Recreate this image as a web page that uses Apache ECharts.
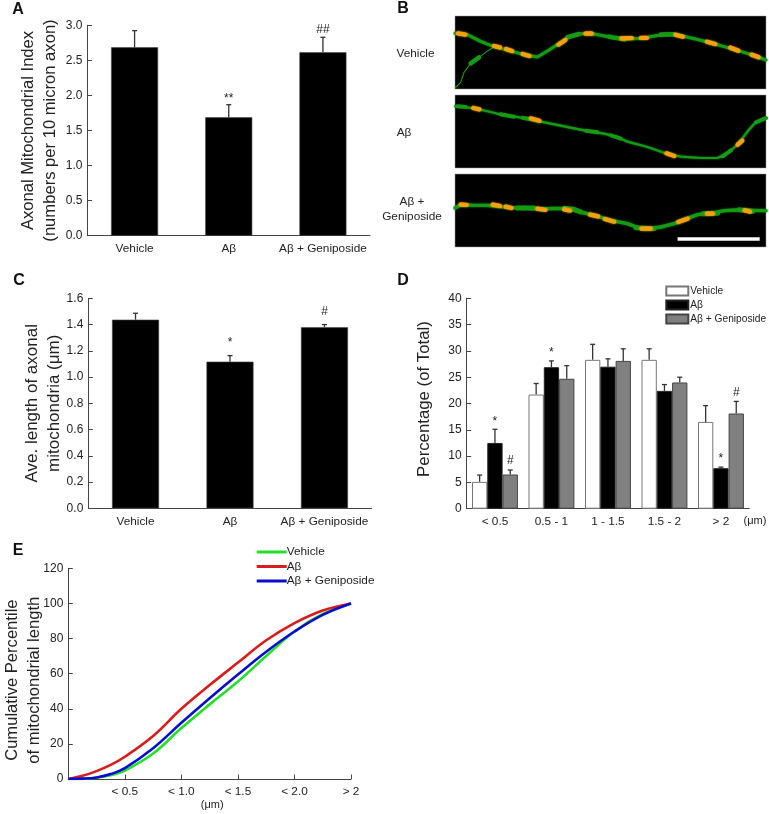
<!DOCTYPE html>
<html><head><meta charset="utf-8">
<style>html,body{margin:0;padding:0;background:#fff}#c{width:769px;height:814px}</style>
<script src="https://cdn.jsdelivr.net/npm/echarts@6/dist/echarts.min.js"></script>
</head><body><div id="c"></div>
<script>
const groups = ['Vehicle', 'Aβ', 'Aβ + Geniposide'];
const binsD = ['< 0.5', '0.5 - 1', '1 - 1.5', '1.5 - 2', '> 2'];
const ticksE = ['', '< 0.5', '< 1.0', '< 1.5', '< 2.0', '> 2'];

const indexA = [2.686, 1.688, 2.615];
const indexErrTopA = [2.924, 1.868, 2.829];
const marksA = [[1, 1.98, '**'], [2, 2.94, '##']];

const lengthC = [1.437, 1.117, 1.379];
const lengthErrTopC = [1.486, 1.163, 1.40];
const marksC = [[1, 1.28, '*'], [2, 1.5, '#']];

const vehicleD = [5.1, 21.7, 28.3, 28.3, 16.5];
const vehicleErrD = [6.4, 23.8, 31.25, 30.4, 19.6];
const abetaD = [12.5, 26.9, 27.0, 22.4, 7.7];
const abetaErrD = [15.1, 28.1, 28.5, 23.6, 7.9];
const genipD = [6.5, 24.7, 28.1, 24.0, 18.1];
const genipErrD = [7.35, 27.2, 30.4, 25.0, 20.4];
const marksD = [[0, 1, 17, '*'], [0, 2, 9.2, '#'], [1, 1, 30, '*'], [4, 1, 9.8, '*'], [4, 2, 22.1, '#']];

const xE = [0, 0.125, 0.25, 0.375, 0.5, 0.75, 1, 1.25, 1.5, 1.75, 2, 2.25, 2.5];
const vehicleE = [0, 0.15, 0.7, 2.1, 4.8, 14.5, 29, 42.5, 55.5, 70, 84, 94, 100];
const abetaE = [0, 1.8, 4.5, 8.0, 12.7, 24.5, 40, 53.5, 66.3, 79, 88.8, 96, 100];
const genipE = [0, 0.2, 0.9, 2.8, 6.2, 17.5, 32, 46, 59.5, 72.5, 84, 93.5, 100];

// Panel B: traced micrograph strokes, in image-trace units; null breaks a stroke
const axon1 = [[3,58],[40,62],[80,82],[120,98],[165,110],[215,123],[250,129],[285,108],[320,85],[345,68],[375,60],[405,58],[440,64],[480,72],[515,75],[565,73],[600,66],[640,60],[675,64],[720,74],[770,87],[840,106],[900,125],[935,138]];
const branch1 = [[3,222],[20,205],[30,175],[50,148],[75,130],[95,115],[118,100]];
const thick1 = [[50,148],[75,130],null,[465,68],[510,76],null,[620,62],[660,61],null,[340,70],[375,60]];
const mito1 = [[12,58],[34,62],null,[120,96],[138,100],null,[156,105],[174,111],null,[206,120],[226,126],null,[313,92],[334,78],null,[394,59],[413,59],null,[502,73],[533,72],null,[560,72],[578,72],null,[664,62],[686,68],null,[758,83],[783,90],null,[828,101],[852,110],null,[892,122],[913,130]];
const red1 = [[396,56],[411,56],null,[560,69],[577,69],null,[830,99],[852,107],null,[895,121],[912,127]];

const axon2 = [[3,40],[30,42],[65,47],[110,57],[150,67],[190,72],[240,82],[290,92],[345,103],[405,115],[450,122],[490,132],[520,146],[580,162],[640,183],[680,191],[740,195],[790,195],[820,180],[850,155],[880,115],[900,92],[920,80],[935,75]];
const thick2 = [[10,40],[35,42],null,[140,64],[180,71],null,[205,74],[250,82],null,[395,113],[430,118],null,[470,127],[500,137],null,[805,190],[830,172],null,[905,88],[935,75]];
const mito2 = [[58,45],[76,49],null,[230,76],[256,83],null,[637,181],[660,189],null,[850,155],[864,143]];
const red2 = [];

const axon3 = [[3,108],[20,98],[60,100],[100,100],[160,106],[210,108],[260,111],[300,109],[345,110],[380,120],[420,130],[470,145],[520,155],[555,168],[580,171],[620,165],[660,155],[690,143],[730,128],[770,124],[810,116],[850,114],[880,115],[935,116]];
const thick3 = [[190,108],[240,108],null,[330,109],[360,112],[380,120],null,[545,167],[600,170],null,[745,125],[790,124],null,[855,113],[895,118]];
const mito3 = [[20,98],[38,99],null,[116,98],[138,102],null,[155,104],[172,108],null,[250,110],[274,114],null,[330,112],[348,116],null,[408,128],[432,133],null,[452,141],[480,149],null,[562,170],[590,170],null,[672,150],[700,140],null,[758,125],[776,125],null,[871,115],[887,119]];
const red3 = [[20,96],[36,96],null,[116,96],[136,99]];
const scaleBar3 = [[670,201],[916,201]];

const FONT = '"Liberation Sans", Arial, sans-serif';
const INK = '#222';
const AXIS = '#444';

function pairs(xs, ys) { return xs.map((x, i) => [x, ys[i]]); }
function stroke(pts) { return pts.map(p => p === null ? ['-', '-'] : p); }

function valueAxis(gridIndex, max, interval, digits, name, nameGap, size, pad) {
  return {
    type: 'value', gridIndex, min: 0, max, interval,
    name, nameLocation: 'middle', nameGap, nameRotate: 90, nameMoveOverlap: false,
    nameTextStyle: { fontFamily: FONT, fontSize: size, color: INK, lineHeight: 22, padding: pad || 0 },
    splitLine: { show: false },
    axisLine: { show: true, lineStyle: { color: AXIS, width: 1 } },
    axisTick: { show: true, inside: true, length: 4.5, lineStyle: { color: AXIS, width: 1 } },
    axisLabel: { fontFamily: FONT, fontSize: 12, color: INK, margin: 5,
      formatter: v => v.toFixed(digits) }
  };
}
function catAxis(gridIndex, data) {
  return {
    type: 'category', gridIndex, data,
    axisLine: { show: true, lineStyle: { color: AXIS, width: 1 } },
    axisTick: { show: false },
    axisLabel: { fontFamily: FONT, fontSize: 11.8, color: INK, margin: 7, interval: 0 },
    splitLine: { show: false }
  };
}
function hiddenAxes(i) {
  return [
    { type: 'value', gridIndex: i, min: 3, max: 935, show: false },
    { type: 'value', gridIndex: i, min: 6, max: 225, inverse: true, show: false }
  ];
}
function errorSeries(axisIndex, bars, tops, slot, slotWidth) {
  return {
    type: 'custom', xAxisIndex: axisIndex, yAxisIndex: axisIndex, silent: true, z: 1,
    data: bars.map((b, i) => [i, b, tops[i]]),
    renderItem(params, api) {
      const off = slot * slotWidth;
      const a = api.coord([api.value(0), api.value(1)]);
      const b = api.coord([api.value(0), api.value(2)]);
      const s = { stroke: '#333', lineWidth: 1.3 };
      return { type: 'group', children: [
        { type: 'line', shape: { x1: a[0] + off, y1: a[1], x2: a[0] + off, y2: b[1] }, style: s },
        { type: 'line', shape: { x1: a[0] + off - 2.5, y1: b[1], x2: a[0] + off + 2.5, y2: b[1] }, style: s }
      ]};
    }
  };
}
function markSeries(axisIndex, marks, slotWidth) {
  return {
    type: 'custom', xAxisIndex: axisIndex, yAxisIndex: axisIndex, silent: true, z: 5,
    data: marks.map(m => m.length === 3 ? [m[0], 0, m[1]] : [m[0], m[1], m[2]]),
    renderItem(params, api) {
      const p = api.coord([api.value(0), api.value(2)]);
      const m = marks[params.dataIndex];
      const t = m[m.length - 1];
      return { type: 'text', style: {
        text: t, x: p[0] + (api.value(1) - (m.length === 3 ? 0 : 1)) * slotWidth, y: p[1] + (t[0] === '*' ? 2 : 0),
        align: 'center', verticalAlign: 'middle', fill: INK, font: '12px ' + FONT } };
    }
  };
}
function simpleBar(axisIndex, values) {
  return { type: 'bar', xAxisIndex: axisIndex, yAxisIndex: axisIndex, data: values, barWidth: 47,
    z: 2, itemStyle: { color: '#000', borderColor: '#444', borderWidth: 0.6 } };
}
function groupBar(name, values, color, border) {
  return { type: 'bar', name, xAxisIndex: 2, yAxisIndex: 2, data: values, barWidth: 15.3, barGap: 0,
    z: 2, itemStyle: { color, borderColor: border, borderWidth: 1 } };
}
function curve(name, values, color) {
  return { type: 'line', name, xAxisIndex: 3, yAxisIndex: 3, data: pairs(xE, values), smooth: 0.4,
    showSymbol: false, symbol: 'none', lineStyle: { color, width: 2.6 }, itemStyle: { color }, z: 3 };
}
function trace(i, pts, color, width, cap, glow) {
  return { type: 'line', xAxisIndex: 4 + i, yAxisIndex: 4 + i, data: stroke(pts), showSymbol: false, symbol: 'none',
    silent: true, connectNulls: false, smooth: false,
    lineStyle: { color, width, cap: cap || 'round', join: 'round', shadowColor: glow ? color : 'transparent', shadowBlur: glow ? 2 : 0 } };
}
function label(x, y, text, size, weight, align) {
  return { type: 'text', x, y, style: { text, font: (weight || 'normal') + ' ' + size + 'px ' + FONT,
    fill: weight ? '#111' : INK, align: align || 'center', verticalAlign: 'middle' } };
}

const GREEN = '#159a15', ORANGE = '#f4a010', RED = '#e02a10';
const panelGrid = top => ({ left: 455, top, width: 311, height: 73, show: true, backgroundColor: '#000', borderColor: '#999', borderWidth: 0.5, outerBoundsMode: 'none' });

const option = {
  animation: false,
  backgroundColor: '#fff',
  grid: [
    { left: 87.5, top: 25.3, width: 282.5, height: 210.4, outerBoundsMode: 'none' },
    { left: 88.3, top: 298.3, width: 283.4, height: 210, outerBoundsMode: 'none' },
    { left: 466.7, top: 298.3, width: 282.5, height: 210.4, outerBoundsMode: 'none' },
    { left: 68.3, top: 568.3, width: 282.7, height: 210.7, outerBoundsMode: 'none' },
    panelGrid(16), panelGrid(95), panelGrid(174)
  ],
  xAxis: [
    catAxis(0, groups), catAxis(1, groups), catAxis(2, binsD),
    {
      type: 'value', gridIndex: 3, min: 0, max: 2.5, interval: 0.5,
      name: '(μm)', nameLocation: 'middle', nameGap: 20,
      nameTextStyle: { fontFamily: FONT, fontSize: 11, color: INK, padding: [0, 0, 0, 5] },
      splitLine: { show: false },
      axisLine: { show: true, lineStyle: { color: AXIS, width: 1 } },
      axisTick: { show: true, inside: true, length: 4.5, lineStyle: { color: AXIS, width: 1 } },
      axisLabel: { fontFamily: FONT, fontSize: 11.8, color: INK, margin: 7,
        formatter: v => ticksE[Math.round(v / 0.5)] }
    },
    hiddenAxes(4)[0], hiddenAxes(5)[0], hiddenAxes(6)[0]
  ],
  yAxis: [
    valueAxis(0, 3, 0.5, 1, 'Axonal Mitochondrial Index\n(numbers per 10 micron axon)', 26, 16.6),
    valueAxis(1, 1.6, 0.2, 1, 'Ave. length of axonal\nmitochondria (μm)', 23, 17),
    valueAxis(2, 40, 5, 0, 'Percentage (of Total)', 31, 16.8, [0, 0, 0, 9]),
    valueAxis(3, 120, 20, 0, 'Cumulative Percentile\nof mitochondrial length', 23, 16.6, [0, 13, 0, 0]),
    hiddenAxes(4)[1], hiddenAxes(5)[1], hiddenAxes(6)[1]
  ],
  legend: [
    { data: groups, orient: 'vertical', left: 665.3, top: 285.5, itemWidth: 22, itemHeight: 9, itemGap: 3, icon: 'rect',
      selectedMode: false, padding: 0, textStyle: { fontFamily: FONT, fontSize: 10.2, color: INK, padding: [0, 0, 0, -3] } },
    { data: groups.map(g => 'E: ' + g), orient: 'vertical', left: 256.7, top: 546, itemWidth: 30, itemHeight: 3, itemGap: 2.5, icon: 'rect',
      selectedMode: false, padding: 0, formatter: n => n.replace('E: ', ''),
      textStyle: { fontFamily: FONT, fontSize: 11.8, color: INK, padding: [0, 0, 0, -5] } }
  ],
  series: [
    errorSeries(0, indexA, indexErrTopA, 0, 0), simpleBar(0, indexA), markSeries(0, marksA, 0),
    errorSeries(1, lengthC, lengthErrTopC, 0, 0), simpleBar(1, lengthC), markSeries(1, marksC, 0),
    errorSeries(2, vehicleD, vehicleErrD, -1, 15.3),
    errorSeries(2, abetaD, abetaErrD, 0, 15.3),
    errorSeries(2, genipD, genipErrD, 1, 15.3),
    groupBar(groups[0], vehicleD, '#fff', '#777'),
    groupBar(groups[1], abetaD, '#000', '#222'),
    groupBar(groups[2], genipD, '#808080', '#444'),
    markSeries(2, marksD, 15.3),
    curve('E: ' + groups[0], vehicleE, '#22e02a'),
    curve('E: ' + groups[1], abetaE, '#d81c1c'),
    curve('E: ' + groups[2], genipE, '#0a0ad0'),
    trace(0, axon1, GREEN, 3, 'round', true), trace(0, branch1, GREEN, 1.1), trace(0, thick1, GREEN, 4.6),
    trace(0, red1, RED, 3.2), trace(0, mito1, ORANGE, 4.2, 'round', true),
    trace(1, axon2, GREEN, 2.2, 'round', true), trace(1, thick2, GREEN, 4),
    trace(1, red2, RED, 3), trace(1, mito2, ORANGE, 4.2, 'round', true),
    trace(2, axon3, GREEN, 3.4, 'round', true), trace(2, thick3, GREEN, 5),
    trace(2, red3, RED, 3.2), trace(2, mito3, ORANGE, 4.2, 'round', true),
    trace(2, scaleBar3, '#fff', 3.4, 'butt')
  ],
  graphic: [
    label(18, 10, 'A', 16, 'bold'), label(403, 9, 'B', 16, 'bold'),
    label(19, 281, 'C', 16, 'bold'), label(403, 281, 'D', 16, 'bold'), label(18, 551, 'E', 16, 'bold'),
    label(415.5, 54, 'Vehicle', 11.8), label(404, 133, 'Aβ', 11.8),
    label(412, 202, 'Aβ +', 11.8), label(412, 217, 'Geniposide', 11.8),
    label(743.5, 521, '(μm)', 11, null, 'left')
  ]
};
echarts.init(document.getElementById('c'), null, { renderer: 'canvas' }).setOption(option);
</script></body></html>
